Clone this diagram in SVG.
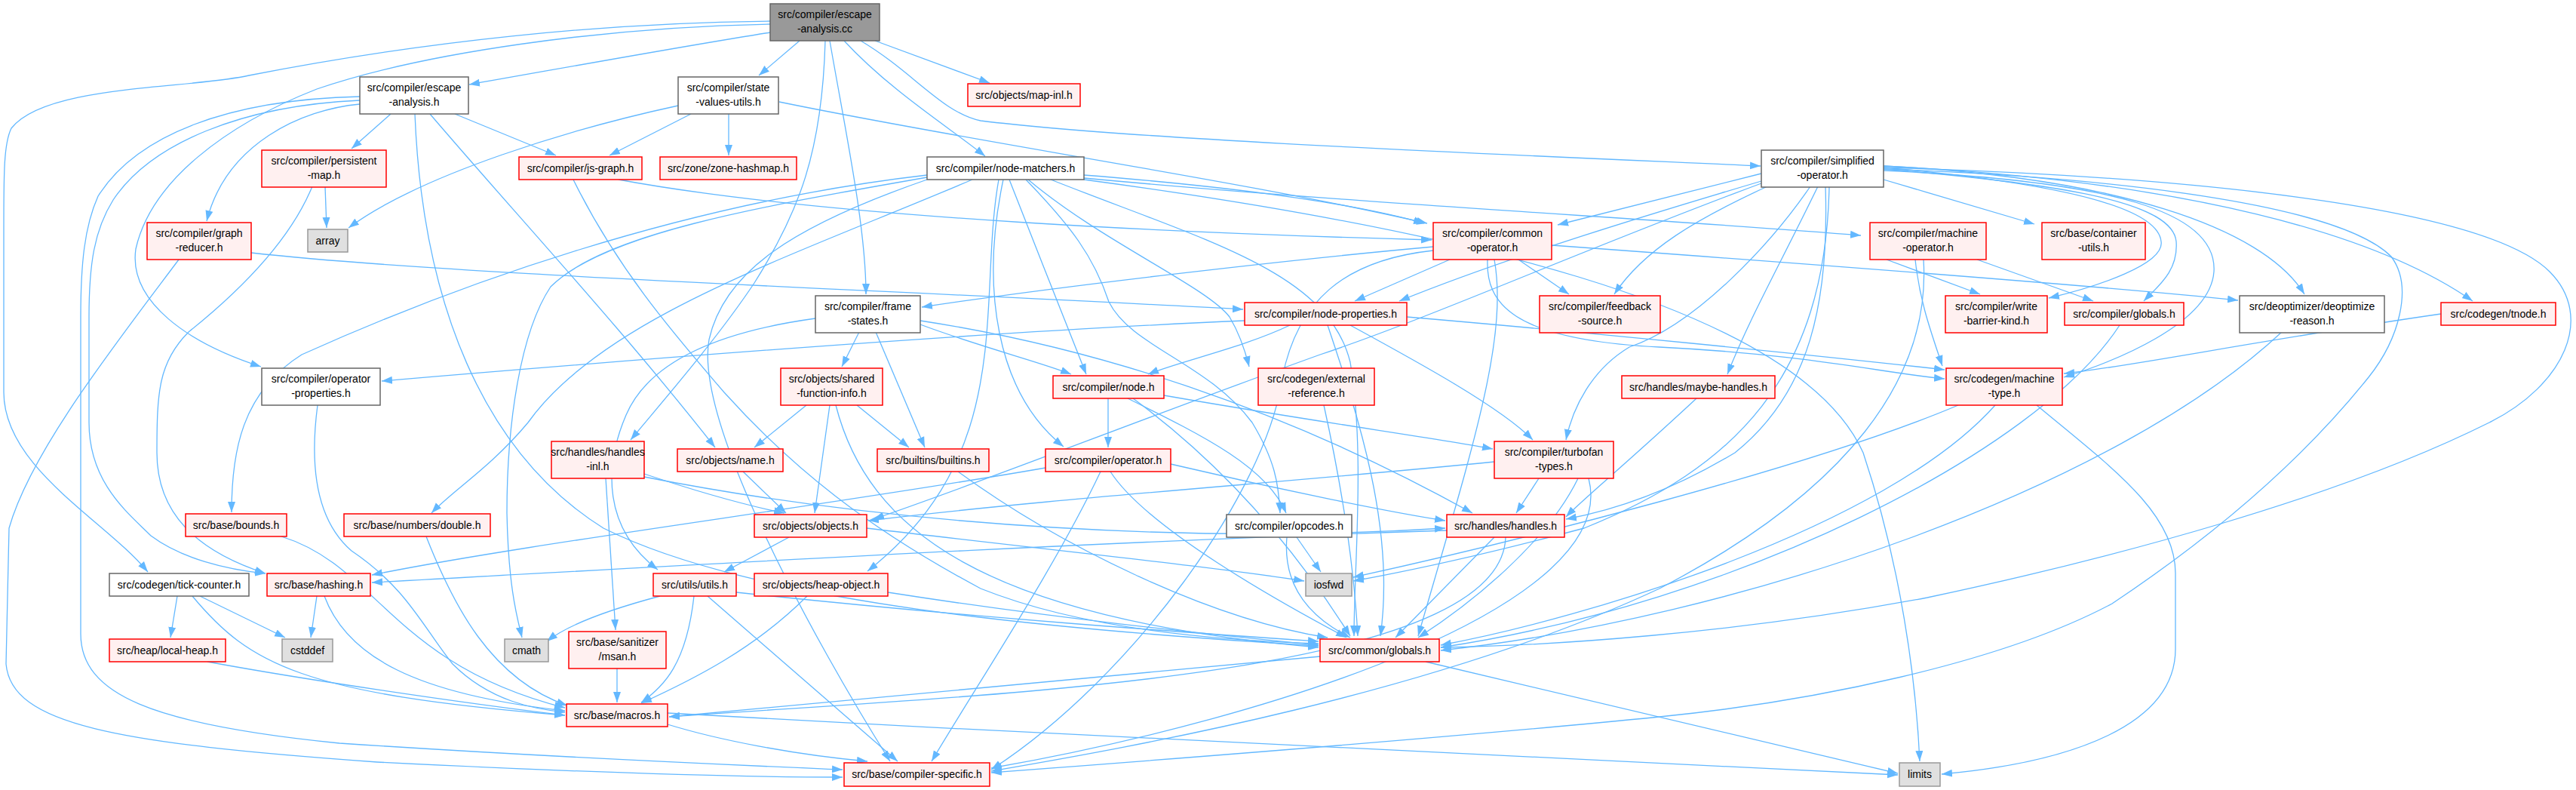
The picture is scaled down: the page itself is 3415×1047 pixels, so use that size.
<svg xmlns="http://www.w3.org/2000/svg" width="3415" height="1047" viewBox="0 0 3415 1047">
<style>
.e{fill:none;stroke:#63b8ff;stroke-width:1.3;marker-end:url(#a)}
.r{fill:#fff0f0;stroke:#ff0000;stroke-width:1.5}
.w{fill:#ffffff;stroke:#666666;stroke-width:1.5}
.g{fill:#999999;stroke:#666666;stroke-width:1.5}
.s{fill:#e0e0e0;stroke:#999999;stroke-width:1.5}
text{font-family:"Liberation Sans",Arial,sans-serif;font-size:14px;fill:#000;text-anchor:middle}
</style>
<defs>
<marker id="a" markerWidth="15" markerHeight="11" refX="14" refY="5.5" orient="auto" markerUnits="userSpaceOnUse"><path d="M0,0.5 L14,5.5 L0,10.5 z" fill="#63b8ff"/></marker>
</defs>
<rect width="3415" height="1047" fill="#ffffff"/>
<g id="connectors">
<path class="e" d="M1021,43 C900,62 720,95 622,112"/>
<path class="e" d="M1060,54 L1006,100"/>
<path class="e" d="M1160,54 L1312,110"/>
<path class="e" d="M1119,54 C1180,120 1260,170 1306,207"/>
<path class="e" d="M1141,54 C1210,95 1250,150 1300,160 C1500,185 2000,205 2334,220"/>
<path class="e" d="M1100,54 C1120,170 1148,300 1148,390"/>
<path class="e" d="M1094,54 C1090,200 1060,280 1000,375 C950,450 880,530 836,583"/>
<path class="e" d="M1021,32 C800,36 560,70 420,118 C300,165 200,240 180,330 C170,400 250,455 346,486"/>
<path class="e" d="M1021,28 C800,30 560,55 330,100 C250,118 60,112 15,170 C5,190 5,230 5,300 L5,520 C5,620 140,690 196,758"/>
<path class="e" d="M518,151 L466,197"/>
<path class="e" d="M603,151 L737,206"/>
<path class="e" d="M477,138 C400,145 300,190 274,293"/>
<path class="e" d="M477,128 C300,132 180,180 130,260 C112,300 107,350 107,420 L107,840 C107,920 200,960 450,985 C750,1005 1000,1015 1117,1020"/>
<path class="e" d="M477,133 C320,140 200,190 150,265 C125,305 118,350 118,420 L118,560 C118,640 170,680 200,710 C240,740 300,755 352,760"/>
<path class="e" d="M570,151 C680,280 820,430 948,593"/>
<path class="e" d="M550,151 C560,400 640,600 800,700 C1000,800 1400,835 1748,856"/>
<path class="e" d="M966,151 L966,206"/>
<path class="e" d="M916,151 L808,206"/>
<path class="e" d="M899,140 C760,170 560,230 462,302"/>
<path class="e" d="M1033,135 C1300,190 1650,240 1892,296"/>
<path class="e" d="M431,247 L433,302"/>
<path class="e" d="M414,247 C380,330 300,400 250,440 C210,480 208,520 208,600 C208,680 260,730 352,760"/>
<path class="e" d="M820,238 C1100,290 1600,310 1898,318"/>
<path class="e" d="M760,238 C820,360 900,450 960,520 C1050,620 1150,700 1300,780 C1450,840 1650,850 1748,853"/>
<path class="e" d="M237,344 C150,460 40,600 12,700 L8,880 C15,960 150,985 500,1010 C800,1025 1000,1030 1117,1030"/>
<path class="e" d="M333,335 C600,365 1200,385 1648,410"/>
<path class="e" d="M1437,232 C1600,245 1780,265 1888,296"/>
<path class="e" d="M1437,236 C1800,270 2200,290 2467,312"/>
<path class="e" d="M1338,238 C1370,320 1410,420 1440,496"/>
<path class="e" d="M1330,238 C1300,380 1320,520 1410,592"/>
<path class="e" d="M1360,238 C1420,300 1450,340 1470,400 C1500,460 1600,480 1660,560 C1690,610 1695,640 1697,680"/>
<path class="e" d="M1363,238 C1460,320 1600,380 1630,420 C1645,445 1652,470 1656,486"/>
<path class="e" d="M1324,238 C1295,400 1350,600 1150,757"/>
<path class="e" d="M1289,238 C1050,340 800,420 700,560 C650,620 600,650 572,680"/>
<path class="e" d="M1229,232 C900,270 600,380 400,470 C320,520 307,600 307,679"/>
<path class="e" d="M1229,235 C1000,275 800,310 730,380 C690,440 672,560 672,680 C674,780 686,820 692,845"/>
<path class="e" d="M1229,238 C1050,300 960,360 940,450 C920,560 1080,850 1180,1009"/>
<path class="e" d="M1393,238 C1600,320 1760,360 1790,480 C1810,600 1795,750 1795,843"/>
<path class="e" d="M1437,238 C1900,300 2380,400 2470,600 C2520,750 2540,900 2545,1009"/>
<path class="e" d="M2335,230 L2065,298"/>
<path class="e" d="M2335,240 C2200,280 2000,340 1855,399"/>
<path class="e" d="M2335,243 C2100,330 1900,420 1750,470 C1500,560 1300,640 1158,688"/>
<path class="e" d="M2343,247 C2250,290 2180,330 2140,390"/>
<path class="e" d="M2400,247 C2350,320 2250,430 2160,460 C2110,490 2085,540 2076,583"/>
<path class="e" d="M2410,247 C2360,350 2320,420 2290,496"/>
<path class="e" d="M2420,247 C2425,400 2400,520 2300,600 C2200,660 2120,680 2076,688"/>
<path class="e" d="M2425,247 C2420,500 2300,620 2100,700 C1950,740 1850,760 1794,770"/>
<path class="e" d="M2497,224 C2800,235 3100,270 3170,340 C3200,380 3180,450 3140,500 C3060,600 2950,700 2800,800 C2650,880 2400,930 2200,950 C1900,980 1500,1010 1314,1024"/>
<path class="e" d="M2497,222 C2950,235 3300,280 3380,360 C3440,420 3400,510 3300,560 C3100,660 2800,740 2555,792 C2300,840 2050,856 1910,858"/>
<path class="e" d="M2497,220 C2900,240 3150,310 3278,399"/>
<path class="e" d="M2497,220 C2800,235 3000,300 3055,390"/>
<path class="e" d="M2497,222 C2700,240 2860,270 2865,320 C2870,350 2780,380 2716,395"/>
<path class="e" d="M2497,224 C2750,245 2880,270 2885,320 C2888,360 2860,380 2842,399"/>
<path class="e" d="M2497,226 C2800,240 2940,280 2935,360 C2930,430 2800,480 2736,500"/>
<path class="e" d="M2497,238 L2697,297"/>
<path class="e" d="M1922,344 L1796,399"/>
<path class="e" d="M2013,344 L2080,390"/>
<path class="e" d="M1900,327 C1700,345 1400,380 1222,407"/>
<path class="e" d="M2057,325 C2400,350 2800,380 2967,398"/>
<path class="e" d="M1972,344 C1970,400 2000,450 2200,460 C2400,470 2500,495 2578,502"/>
<path class="e" d="M1981,344 C2000,450 1950,600 1880,843"/>
<path class="e" d="M1900,332 C1780,345 1720,400 1700,500 C1680,650 1500,900 1314,1020"/>
<path class="e" d="M2501,344 L2625,390"/>
<path class="e" d="M2621,344 L2775,399"/>
<path class="e" d="M2539,344 C2545,400 2560,440 2575,485"/>
<path class="e" d="M2550,344 C2560,500 2450,650 2200,780 C1900,920 1500,990 1314,1022"/>
<path class="e" d="M421,537 C410,620 420,690 466,730 C540,780 560,830 600,880 C650,930 710,940 749,944"/>
<path class="e" d="M1139,440 L1116,486"/>
<path class="e" d="M1161,440 L1226,593"/>
<path class="e" d="M1220,430 C1300,460 1380,480 1420,496"/>
<path class="e" d="M1220,425 C1450,460 1700,540 1952,680"/>
<path class="e" d="M1081,422 C950,440 860,480 830,550 C800,620 800,700 872,755"/>
<path class="e" d="M1650,425 C1300,440 800,480 506,505"/>
<path class="e" d="M1710,431 C1650,460 1560,480 1522,496"/>
<path class="e" d="M1790,431 C1880,480 1990,540 2032,583"/>
<path class="e" d="M1865,420 C2100,440 2400,470 2578,490"/>
<path class="e" d="M1760,431 C1800,550 1850,700 1830,843"/>
<path class="e" d="M2810,431 C2700,600 2300,800 1910,858"/>
<path class="e" d="M3025,440 C2800,650 2300,820 1910,862"/>
<path class="e" d="M3236,416 C3000,450 2800,490 2736,495"/>
<path class="e" d="M1069,537 L1000,593"/>
<path class="e" d="M1100,537 L1080,680"/>
<path class="e" d="M1108,537 C1150,700 1300,820 1748,858"/>
<path class="e" d="M1136,537 L1205,593"/>
<path class="e" d="M1469,528 L1469,593"/>
<path class="e" d="M1495,528 C1600,580 1680,620 1705,680"/>
<path class="e" d="M1502,528 C1600,600 1700,700 1790,843"/>
<path class="e" d="M1543,524 C1750,560 1900,580 1979,595"/>
<path class="e" d="M1755,537 C1780,650 1795,750 1800,843"/>
<path class="e" d="M2249,528 C2150,620 2100,660 2076,685"/>
<path class="e" d="M2596,537 C2400,620 2000,720 1794,765"/>
<path class="e" d="M2645,537 C2500,700 2100,820 1910,855"/>
<path class="e" d="M2700,537 C2800,620 2884,680 2884,760 L2884,860 C2884,960 2750,1010 2574,1026"/>
<path class="e" d="M803,634 L816,835"/>
<path class="e" d="M854,628 C920,650 990,670 1040,680"/>
<path class="e" d="M854,632 C1200,700 1600,720 1916,700"/>
<path class="e" d="M985,625 L1042,680"/>
<path class="e" d="M1270,625 C1400,720 1600,820 1760,845"/>
<path class="e" d="M1386,620 C1100,670 700,720 493,762"/>
<path class="e" d="M1459,625 C1400,750 1300,900 1235,1009"/>
<path class="e" d="M1472,625 C1520,700 1700,800 1785,845"/>
<path class="e" d="M1552,615 C1700,650 1850,680 1916,690"/>
<path class="e" d="M1981,612 C1700,640 1400,660 1151,690"/>
<path class="e" d="M2040,634 L2010,680"/>
<path class="e" d="M2092,634 C2050,720 1950,800 1880,845"/>
<path class="e" d="M2106,634 C2150,800 1700,950 1314,1018"/>
<path class="e" d="M373,711 C500,750 520,880 749,938"/>
<path class="e" d="M565,711 C600,800 650,900 752,935"/>
<path class="e" d="M1046,712 L960,758"/>
<path class="e" d="M1149,700 C1400,730 1600,750 1729,770"/>
<path class="e" d="M1719,712 L1751,758"/>
<path class="e" d="M1706,712 C1700,780 1740,820 1790,845"/>
<path class="e" d="M1918,703 C1400,720 900,750 493,772"/>
<path class="e" d="M1981,712 L1850,845"/>
<path class="e" d="M1996,712 C1990,900 1300,920 887,950"/>
<path class="e" d="M235,790 L226,845"/>
<path class="e" d="M265,790 L378,845"/>
<path class="e" d="M255,790 C330,880 400,920 749,948"/>
<path class="e" d="M420,790 L412,845"/>
<path class="e" d="M430,790 C460,870 550,920 749,942"/>
<path class="e" d="M875,790 C800,810 750,830 725,850"/>
<path class="e" d="M920,790 C910,880 880,910 850,931"/>
<path class="e" d="M938,790 L1190,1009"/>
<path class="e" d="M976,785 C1300,820 1600,840 1748,850"/>
<path class="e" d="M1177,785 C1400,820 1600,840 1748,855"/>
<path class="e" d="M1070,790 C1000,860 920,900 850,932"/>
<path class="e" d="M275,877 C400,900 600,930 749,948"/>
<path class="e" d="M818,886 L818,931"/>
<path class="e" d="M1750,870 C1400,900 1100,930 887,950"/>
<path class="e" d="M1890,877 L2516,1025"/>
<path class="e" d="M885,945 C1500,980 2200,1010 2516,1027"/>
<path class="e" d="M885,960 C950,980 1050,1000 1150,1009"/>
</g>
<g id="n_cc"><rect class="g" x="1021" y="5" width="145" height="49"/><text x="1093.5" y="24">src/compiler/escape</text><text x="1093.5" y="43">-analysis.cc</text></g>
<g id="n_ea_h"><rect class="w" x="477" y="102" width="144" height="49"/><text x="549" y="121">src/compiler/escape</text><text x="549" y="140">-analysis.h</text></g>
<g id="n_svu"><rect class="w" x="899" y="102" width="133" height="49"/><text x="965.5" y="121">src/compiler/state</text><text x="965.5" y="140">-values-utils.h</text></g>
<g id="n_mapinl"><rect class="r" x="1283" y="111" width="149" height="30"/><text x="1357.5" y="131">src/objects/map-inl.h</text></g>
<g id="n_nm"><rect class="w" x="1229" y="208" width="208" height="30"/><text x="1333" y="228">src/compiler/node-matchers.h</text></g>
<g id="n_simp"><rect class="w" x="2335" y="199" width="162" height="49"/><text x="2416" y="218">src/compiler/simplified</text><text x="2416" y="237">-operator.h</text></g>
<g id="n_pmap"><rect class="r" x="347" y="199" width="165" height="49"/><text x="429.5" y="218">src/compiler/persistent</text><text x="429.5" y="237">-map.h</text></g>
<g id="n_jsg"><rect class="r" x="688" y="208" width="163" height="30"/><text x="769.5" y="228">src/compiler/js-graph.h</text></g>
<g id="n_zhm"><rect class="r" x="875" y="208" width="181" height="30"/><text x="965.5" y="228">src/zone/zone-hashmap.h</text></g>
<g id="n_gr"><rect class="r" x="195" y="295" width="138" height="49"/><text x="264" y="314">src/compiler/graph</text><text x="264" y="333">-reducer.h</text></g>
<g id="n_array"><rect class="s" x="408" y="304" width="53" height="30"/><text x="434.5" y="324">array</text></g>
<g id="n_cop"><rect class="r" x="1900" y="295" width="157" height="49"/><text x="1978.5" y="314">src/compiler/common</text><text x="1978.5" y="333">-operator.h</text></g>
<g id="n_mop"><rect class="r" x="2479" y="295" width="154" height="49"/><text x="2556" y="314">src/compiler/machine</text><text x="2556" y="333">-operator.h</text></g>
<g id="n_cu"><rect class="r" x="2707" y="295" width="137" height="49"/><text x="2775.5" y="314">src/base/container</text><text x="2775.5" y="333">-utils.h</text></g>
<g id="n_opprop"><rect class="w" x="347" y="488" width="157" height="49"/><text x="425.5" y="507">src/compiler/operator</text><text x="425.5" y="526">-properties.h</text></g>
<g id="n_fs"><rect class="w" x="1081" y="392" width="139" height="49"/><text x="1150.5" y="411">src/compiler/frame</text><text x="1150.5" y="430">-states.h</text></g>
<g id="n_np"><rect class="r" x="1650" y="401" width="215" height="30"/><text x="1757.5" y="421">src/compiler/node-properties.h</text></g>
<g id="n_fb"><rect class="r" x="2041" y="392" width="160" height="49"/><text x="2121" y="411">src/compiler/feedback</text><text x="2121" y="430">-source.h</text></g>
<g id="n_wbk"><rect class="r" x="2579" y="392" width="135" height="49"/><text x="2646.5" y="411">src/compiler/write</text><text x="2646.5" y="430">-barrier-kind.h</text></g>
<g id="n_cglob"><rect class="r" x="2737" y="401" width="158" height="30"/><text x="2816" y="421">src/compiler/globals.h</text></g>
<g id="n_deopt"><rect class="w" x="2969" y="392" width="192" height="49"/><text x="3065" y="411">src/deoptimizer/deoptimize</text><text x="3065" y="430">-reason.h</text></g>
<g id="n_tnode"><rect class="r" x="3236" y="401" width="152" height="30"/><text x="3312" y="421">src/codegen/tnode.h</text></g>
<g id="n_sfi"><rect class="r" x="1035" y="488" width="135" height="49"/><text x="1102.5" y="507">src/objects/shared</text><text x="1102.5" y="526">-function-info.h</text></g>
<g id="n_node"><rect class="r" x="1396" y="498" width="147" height="30"/><text x="1469.5" y="518">src/compiler/node.h</text></g>
<g id="n_extref"><rect class="r" x="1668" y="488" width="154" height="49"/><text x="1745" y="507">src/codegen/external</text><text x="1745" y="526">-reference.h</text></g>
<g id="n_mh"><rect class="r" x="2150" y="498" width="203" height="30"/><text x="2251.5" y="518">src/handles/maybe-handles.h</text></g>
<g id="n_mt"><rect class="r" x="2580" y="488" width="154" height="49"/><text x="2657" y="507">src/codegen/machine</text><text x="2657" y="526">-type.h</text></g>
<g id="n_hinl"><rect class="r" x="731" y="585" width="123" height="49"/><text x="792.5" y="604">src/handles/handles</text><text x="792.5" y="623">-inl.h</text></g>
<g id="n_name"><rect class="r" x="898" y="595" width="140" height="30"/><text x="968" y="615">src/objects/name.h</text></g>
<g id="n_builtins"><rect class="r" x="1163" y="595" width="148" height="30"/><text x="1237" y="615">src/builtins/builtins.h</text></g>
<g id="n_op"><rect class="r" x="1386" y="595" width="166" height="30"/><text x="1469" y="615">src/compiler/operator.h</text></g>
<g id="n_tft"><rect class="r" x="1981" y="585" width="158" height="49"/><text x="2060" y="604">src/compiler/turbofan</text><text x="2060" y="623">-types.h</text></g>
<g id="n_bounds"><rect class="r" x="246" y="681" width="134" height="30"/><text x="313" y="701">src/base/bounds.h</text></g>
<g id="n_double"><rect class="r" x="456" y="681" width="194" height="30"/><text x="553" y="701">src/base/numbers/double.h</text></g>
<g id="n_objects"><rect class="r" x="1000" y="682" width="149" height="30"/><text x="1074.5" y="702">src/objects/objects.h</text></g>
<g id="n_opcodes"><rect class="w" x="1626" y="682" width="166" height="30"/><text x="1709" y="702">src/compiler/opcodes.h</text></g>
<g id="n_handles"><rect class="r" x="1918" y="682" width="156" height="30"/><text x="1996" y="702">src/handles/handles.h</text></g>
<g id="n_tick"><rect class="w" x="145" y="760" width="185" height="30"/><text x="237.5" y="780">src/codegen/tick-counter.h</text></g>
<g id="n_hashing"><rect class="r" x="354" y="760" width="137" height="30"/><text x="422.5" y="780">src/base/hashing.h</text></g>
<g id="n_utils"><rect class="r" x="866" y="760" width="110" height="30"/><text x="921" y="780">src/utils/utils.h</text></g>
<g id="n_heapobj"><rect class="r" x="1000" y="760" width="177" height="30"/><text x="1088.5" y="780">src/objects/heap-object.h</text></g>
<g id="n_iosfwd"><rect class="s" x="1731" y="760" width="61" height="30"/><text x="1761.5" y="780">iosfwd</text></g>
<g id="n_lheap"><rect class="r" x="145" y="847" width="154" height="30"/><text x="222" y="867">src/heap/local-heap.h</text></g>
<g id="n_cstddef"><rect class="s" x="374" y="847" width="67" height="30"/><text x="407.5" y="867">cstddef</text></g>
<g id="n_cmath"><rect class="s" x="669" y="847" width="58" height="30"/><text x="698" y="867">cmath</text></g>
<g id="n_msan"><rect class="r" x="754" y="837" width="129" height="49"/><text x="818.5" y="856">src/base/sanitizer</text><text x="818.5" y="875">/msan.h</text></g>
<g id="n_cglobals"><rect class="r" x="1750" y="847" width="158" height="30"/><text x="1829" y="867">src/common/globals.h</text></g>
<g id="n_macros"><rect class="r" x="751" y="933" width="134" height="30"/><text x="818" y="953">src/base/macros.h</text></g>
<g id="n_cspec"><rect class="r" x="1119" y="1011" width="193" height="31"/><text x="1215.5" y="1031">src/base/compiler-specific.h</text></g>
<g id="n_limits"><rect class="s" x="2518" y="1011" width="54" height="31"/><text x="2545" y="1031">limits</text></g>
</svg>
